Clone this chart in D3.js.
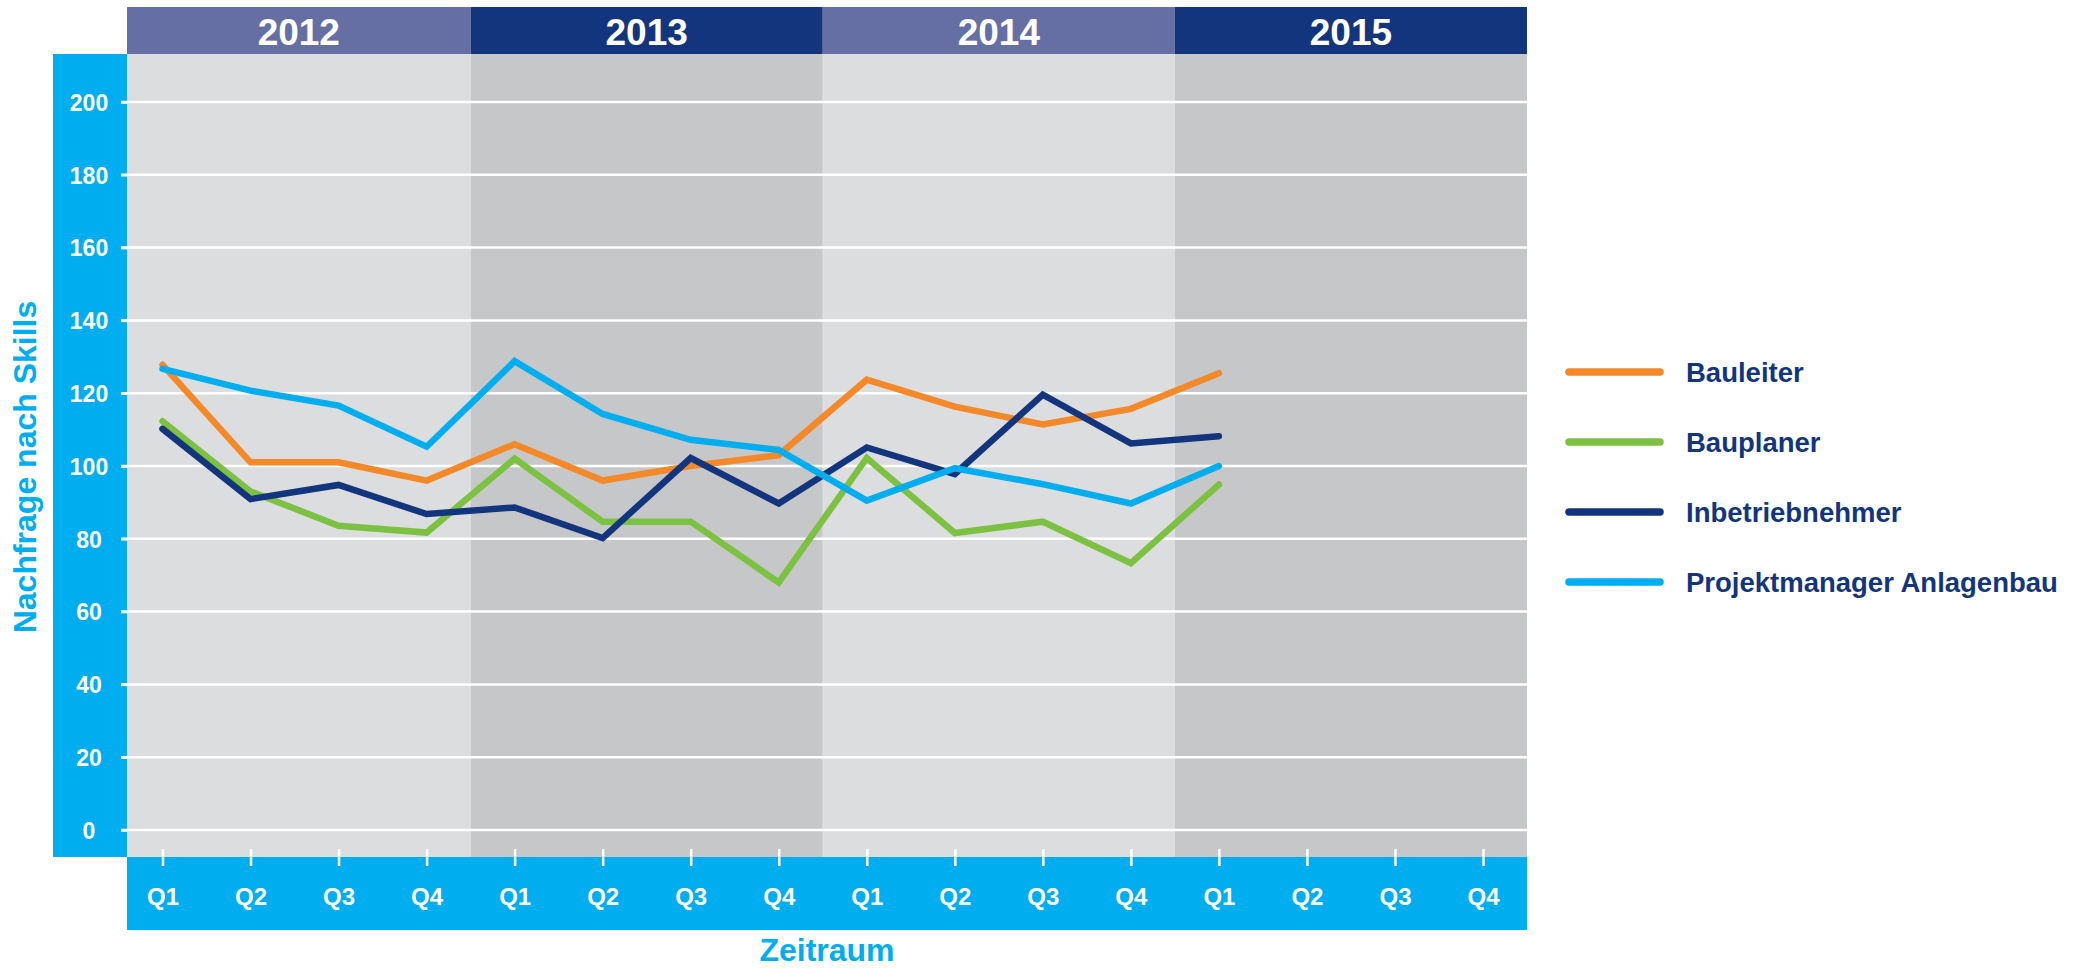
<!DOCTYPE html>
<html>
<head>
<meta charset="utf-8">
<script src="https://cdn.jsdelivr.net/npm/d3@7"></script>
<style>
  html, body { margin: 0; padding: 0; background: #ffffff; }
  svg { display: block; font-family: "Liberation Sans", Arial, Helvetica, sans-serif; font-weight: bold; }
</style>
</head>
<body>
<svg id="chart" width="2094" height="969"></svg>
<script>
// ---------- DATA ----------
const years = ["2012", "2013", "2014", "2015"];
const quarters = ["Q1", "Q2", "Q3", "Q4"];
const yTicks = [0, 20, 40, 60, 80, 100, 120, 140, 160, 180, 200];
const seriesNames = ["Bauleiter", "Bauplaner", "Inbetriebnehmer", "Projektmanager Anlagenbau"];
const bauleiter =       [127.8, 101.0, 101.0, 96.0, 106.0, 96.0, 100.0, 103.0, 123.7, 116.3, 111.4, 115.7, 125.5];
const bauplaner =       [112.3, 93.0, 83.6, 81.7, 102.0, 84.7, 84.7, 68.0, 102.2, 81.6, 84.7, 73.3, 94.9];
const inbetriebnehmer = [110.2, 90.9, 94.8, 86.8, 88.6, 80.2, 102.2, 89.7, 105.1, 97.8, 119.6, 106.2, 108.2];
const projektmanager =  [126.7, 120.7, 116.6, 105.3, 128.8, 114.3, 107.2, 104.4, 90.5, 99.4, 95.0, 89.7, 100.0];
const xTitle = "Zeitraum";
const yTitle = "Nachfrage nach Skills";

// ---------- STYLE ----------
const colors = ["#f4892a", "#7dc142", "#12357d", "#00aeef"];
const headerColors = ["#666fa3", "#12357d", "#666fa3", "#12357d"];
const bandColors = ["#dcdddf", "#c6c7c9", "#dcdddf", "#c6c7c9"];
const cyan = "#00aeef";
const navy = "#12357d";

const plotLeft = 127, plotRight = 1527, plotTop = 54, plotBottom = 857;
const headerTop = 7;
const axisBandBottom = 930;
const yPanelLeft = 53;

const svg = d3.select("#chart");

const keys = [];
years.forEach(y => quarters.forEach(q => keys.push(y + "-" + q)));

const x = d3.scalePoint().domain(keys).range([162.5, 1483]);
const y = d3.scaleLinear().domain([0, 200]).range([830, 102]);

// year band extents
const bands = years.map((yr, i) => {
  const first = x(yr + "-Q1"), last = x(yr + "-Q4");
  const x0 = i === 0 ? plotLeft : (first + x(years[i - 1] + "-Q4")) / 2;
  const x1 = i === years.length - 1 ? plotRight : (last + x(years[i + 1] + "-Q1")) / 2;
  return { yr, i, x0, x1 };
});

// backgrounds
svg.append("g").selectAll("rect").data(bands).join("rect")
  .attr("x", d => d.x0).attr("y", plotTop)
  .attr("width", d => d.x1 - d.x0).attr("height", plotBottom - plotTop)
  .attr("fill", d => bandColors[d.i]);

// header
const hdr = svg.append("g");
hdr.selectAll("rect").data(bands).join("rect")
  .attr("x", d => d.x0).attr("y", headerTop)
  .attr("width", d => d.x1 - d.x0).attr("height", plotTop - headerTop)
  .attr("fill", d => headerColors[d.i]);
hdr.selectAll("text").data(bands).join("text")
  .attr("x", d => (d.x0 + d.x1) / 2).attr("y", 45)
  .attr("text-anchor", "middle").attr("fill", "#ffffff")
  .attr("font-size", 37).text(d => d.yr);

// blue y panel and x band
svg.append("rect").attr("x", yPanelLeft).attr("y", plotTop)
  .attr("width", plotLeft - yPanelLeft).attr("height", plotBottom - plotTop).attr("fill", cyan);
svg.append("rect").attr("x", plotLeft).attr("y", plotBottom)
  .attr("width", plotRight - plotLeft).attr("height", axisBandBottom - plotBottom).attr("fill", cyan);

// gridlines
svg.append("g").selectAll("line").data(yTicks).join("line")
  .attr("x1", 121).attr("x2", plotRight)
  .attr("y1", d => y(d)).attr("y2", d => y(d))
  .attr("stroke", "#ffffff").attr("stroke-width", 2.5);

// y axis
const yAxis = svg.append("g").attr("transform", `translate(${plotLeft},0)`)
  .call(d3.axisLeft(y).tickValues(yTicks).tickSize(6).tickPadding(0));
yAxis.select(".domain").remove();
yAxis.selectAll(".tick line").attr("stroke", "#ffffff").attr("stroke-width", 2.5);
yAxis.selectAll(".tick text")
  .attr("x", 89 - plotLeft).attr("dy", "0.36em")
  .attr("text-anchor", "middle").attr("fill", "#ffffff")
  .attr("font-size", 23).attr("font-family", null).attr("font-weight", "bold");

// x axis
const xAxis = svg.append("g").attr("transform", `translate(0,849)`)
  .call(d3.axisBottom(x).tickSize(17).tickFormat(k => k.split("-")[1]));
xAxis.select(".domain").remove();
xAxis.selectAll(".tick line").attr("stroke", "#ffffff").attr("stroke-width", 2.5);
xAxis.selectAll(".tick text")
  .attr("y", 56).attr("dy", 0)
  .attr("fill", "#ffffff").attr("font-size", 24)
  .attr("font-family", null).attr("font-weight", "bold");

// lines
const allSeries = [bauleiter, bauplaner, inbetriebnehmer, projektmanager];
const line = d3.line().x((d, i) => x(keys[i])).y(d => y(d));
svg.append("g").selectAll("path").data(allSeries).join("path")
  .attr("d", d => line(d))
  .attr("fill", "none")
  .attr("stroke", (d, i) => colors[i])
  .attr("stroke-width", 6.5)
  .attr("stroke-linecap", "round")
  .attr("stroke-linejoin", "miter");

// legend
const legend = svg.append("g").selectAll("g").data(seriesNames).join("g")
  .attr("transform", (d, i) => `translate(1567,${372 + i * 70})`);
legend.append("line").attr("x1", 2).attr("x2", 93).attr("y1", 0).attr("y2", 0)
  .attr("stroke", (d, i) => colors[i]).attr("stroke-width", 7.5).attr("stroke-linecap", "round");
legend.append("text").attr("x", 119).attr("y", 0).attr("dy", "0.36em")
  .attr("fill", navy).attr("font-size", 27.5).text(d => d);

// titles
svg.append("text").attr("x", (plotLeft + plotRight) / 2).attr("y", 961)
  .attr("text-anchor", "middle").attr("fill", cyan).attr("font-size", 32).text(xTitle);
svg.append("text").attr("transform", "translate(36,467) rotate(-90)")
  .attr("text-anchor", "middle").attr("fill", cyan).attr("font-size", 32).text(yTitle);
</script>
</body>
</html>
